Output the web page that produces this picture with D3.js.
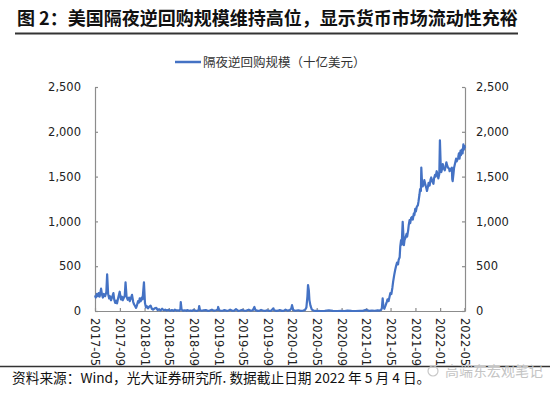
<!DOCTYPE html>
<html>
<head>
<meta charset="utf-8">
<script src="https://cdn.jsdelivr.net/npm/d3@7"></script>
<style>
  body { margin: 0; background: #fff; }
  svg { display: block; }
</style>
</head>
<body>
<script>
// Step 1: data (十亿美元)
var dates = [
  "2017-05-01","2017-05-05","2017-05-10","2017-05-15","2017-05-19","2017-05-24","2017-05-31",
  "2017-06-05","2017-06-09","2017-06-14","2017-06-20","2017-06-26","2017-06-30",
  "2017-07-05","2017-07-10","2017-07-14","2017-07-19","2017-07-24","2017-07-31",
  "2017-08-04","2017-08-09","2017-08-14","2017-08-18","2017-08-23","2017-08-31",
  "2017-09-06","2017-09-11","2017-09-15","2017-09-20","2017-09-25","2017-09-29",
  "2017-10-04","2017-10-10","2017-10-16","2017-10-20","2017-10-25","2017-10-31",
  "2017-11-06","2017-11-10","2017-11-15","2017-11-20","2017-11-24","2017-11-30",
  "2017-12-05","2017-12-08","2017-12-13","2017-12-18","2017-12-22","2017-12-29",
  "2018-01-03","2018-01-08","2018-01-12","2018-01-18","2018-01-23","2018-01-31",
  "2018-02-06","2018-02-12","2018-02-20","2018-02-28",
  "2018-03-07","2018-03-14","2018-03-21","2018-03-29",
  "2018-04-06","2018-04-13","2018-04-20","2018-04-30",
  "2018-05-08","2018-05-16","2018-05-24","2018-05-31",
  "2018-06-08","2018-06-15","2018-06-22","2018-06-27","2018-06-29",
  "2018-07-03","2018-07-11","2018-07-19","2018-07-27","2018-07-31",
  "2018-08-09","2018-08-17","2018-08-24","2018-08-31",
  "2018-09-10","2018-09-18","2018-09-25","2018-09-28",
  "2018-10-02","2018-10-10","2018-10-19","2018-10-31",
  "2018-11-09","2018-11-19","2018-11-30",
  "2018-12-10","2018-12-20","2018-12-28","2018-12-31",
  "2019-01-04","2019-01-14","2019-01-24","2019-01-31",
  "2019-02-11","2019-02-21","2019-02-28",
  "2019-03-11","2019-03-20","2019-03-29",
  "2019-04-09","2019-04-18","2019-04-30",
  "2019-05-10","2019-05-20","2019-05-31",
  "2019-06-10","2019-06-20","2019-06-28",
  "2019-07-03","2019-07-15","2019-07-25","2019-07-31",
  "2019-08-12","2019-08-22","2019-08-30",
  "2019-09-10","2019-09-20","2019-09-30",
  "2019-10-03","2019-10-15","2019-10-25","2019-10-31",
  "2019-11-12","2019-11-22","2019-11-29",
  "2019-12-10","2019-12-20","2019-12-27","2019-12-31",
  "2020-01-06","2020-01-16","2020-01-31",
  "2020-02-12","2020-02-24",
  "2020-03-04","2020-03-11","2020-03-16","2020-03-19","2020-03-23","2020-03-26","2020-03-31",
  "2020-04-07","2020-04-15","2020-04-24",
  "2020-05-05","2020-05-20","2020-06-10","2020-06-30",
  "2020-07-20","2020-08-10","2020-08-31","2020-09-15","2020-09-30",
  "2020-10-20","2020-11-10","2020-11-30","2020-12-15","2020-12-31",
  "2021-01-15","2021-01-29","2021-02-12","2021-02-26",
  "2021-03-08","2021-03-15","2021-03-19","2021-03-23","2021-03-26","2021-03-31",
  "2021-04-06","2021-04-12","2021-04-16","2021-04-21","2021-04-26","2021-04-30",
  "2021-05-05","2021-05-10","2021-05-14","2021-05-19","2021-05-24","2021-05-28",
  "2021-06-02","2021-06-07","2021-06-10","2021-06-15","2021-06-18","2021-06-22","2021-06-25","2021-06-30",
  "2021-07-06","2021-07-09","2021-07-14","2021-07-19","2021-07-22","2021-07-27","2021-07-30",
  "2021-08-03","2021-08-06","2021-08-11","2021-08-16","2021-08-19","2021-08-24","2021-08-27","2021-08-31",
  "2021-09-03","2021-09-08","2021-09-13","2021-09-16","2021-09-21","2021-09-24","2021-09-28","2021-09-30",
  "2021-10-04","2021-10-07","2021-10-12","2021-10-15","2021-10-20","2021-10-25","2021-10-28",
  "2021-11-02","2021-11-05","2021-11-10","2021-11-15","2021-11-18","2021-11-23","2021-11-29",
  "2021-12-02","2021-12-07","2021-12-10","2021-12-15","2021-12-20","2021-12-23","2021-12-28","2021-12-31",
  "2022-01-04","2022-01-07","2022-01-12","2022-01-14","2022-01-19","2022-01-24","2022-01-28",
  "2022-02-01","2022-02-04","2022-02-09","2022-02-14","2022-02-17","2022-02-22","2022-02-28",
  "2022-03-02","2022-03-04","2022-03-08","2022-03-11","2022-03-16","2022-03-21","2022-03-24","2022-03-31",
  "2022-04-04","2022-04-07","2022-04-12","2022-04-14","2022-04-19","2022-04-22","2022-04-26","2022-04-28",
  "2022-05-02","2022-05-04"
];

var rrpValues = [
  175,150,190,165,200,160,250,
  180,150,190,165,210,410,
  190,140,165,120,150,200,
  130,90,115,85,140,215,
  130,160,120,145,170,320,
  160,125,150,110,140,180,
  100,75,55,35,60,110,
  95,140,110,150,130,320,
  90,40,55,30,45,60,
  25,15,30,35,
  10,20,5,25,
  8,15,5,12,
  3,10,2,15,
  5,8,3,20,100,
  15,3,8,2,10,
  3,6,2,12,
  4,2,8,55,
  10,3,6,10,
  2,5,15,
  4,8,12,45,
  8,3,5,10,
  2,6,15,
  3,5,20,
  2,6,12,
  3,5,15,
  3,8,45,
  10,2,5,12,
  3,2,8,
  2,5,30,
  8,2,4,10,
  2,3,15,
  4,10,25,65,
  10,3,8,
  2,5,
  10,40,160,290,230,120,60,
  15,5,2,
  1,0,1,6,
  1,0,2,0,5,
  1,0,3,1,12,
  2,4,3,6,
  5,12,30,140,60,25,
  60,100,130,110,160,200,
  190,260,330,400,460,500,
  540,520,570,600,720,790,740,995,
  735,790,820,860,830,900,960,
  1015,980,1040,1050,1020,1090,1070,1140,
  1110,1165,1180,1220,1300,1360,1340,1600,
  1420,1390,1420,1460,1410,1370,1340,
  1390,1430,1400,1470,1490,1450,1420,
  1480,1520,1500,1560,1520,1480,1530,1905,
  1620,1550,1600,1640,1590,1570,1610,
  1660,1630,1600,1590,1560,1580,1600,
  1470,1450,1530,1600,1650,1700,1670,1710,
  1760,1700,1790,1740,1800,1760,1860,1800,
  1840,1820
];

var yTicks = [0, 500, 1000, 1500, 2000, 2500];
var xTickLabels = ["2017-05","2017-09","2018-01","2018-05","2018-09","2019-01","2019-05","2019-09",
  "2020-01","2020-05","2020-09","2021-01","2021-05","2021-09","2022-01","2022-05"];

var titleText = "图 2：美国隔夜逆回购规模维持高位，显示货币市场流动性充裕";
var legendText = "隔夜逆回购规模（十亿美元）";
var sourceText = "资料来源：Wind，光大证券研究所. 数据截止日期 2022 年 5 月 4 日。";

// Step 2: build chart
var parseDate = d3.timeParse("%Y-%m-%d");
var parseMonth = d3.timeParse("%Y-%m");
var dataset = dates.map(function(d, i) {
  return { date: parseDate(d), value: rrpValues[i] };
});

var cjk = "'Noto Sans CJK SC', 'Noto Sans', sans-serif";
var tickFont = "'DejaVu Sans', Verdana, sans-serif";
var axisColor = "#8c8c8c";
var lineColor = "#4472c4";

var svg = d3.select("body")
  .append("svg")
  .attr("width", 550)
  .attr("height", 395);

var plotLeft = 95, plotRight = 465, plotTop = 87, plotBottom = 311;

var xScale = d3.scaleTime()
  .domain([parseDate("2017-05-01"), parseDate("2022-05-04")])
  .range([plotLeft, plotRight]);

var yScale = d3.scaleLinear()
  .domain([0, 2500])
  .range([plotBottom, plotTop]);

// title + underline
svg.append("text")
  .text(titleText)
  .attr("x", 17)
  .attr("y", 25)
  .attr("font-family", cjk)
  .attr("font-size", 18)
  .attr("font-weight", "bold")
  .attr("fill", "#111");

svg.append("line")
  .attr("x1", 15).attr("x2", 518)
  .attr("y1", 33.5).attr("y2", 33.5)
  .attr("stroke", "#333")
  .attr("stroke-width", 2);

// legend
svg.append("line")
  .attr("x1", 175).attr("x2", 201)
  .attr("y1", 62).attr("y2", 62)
  .attr("stroke", lineColor)
  .attr("stroke-width", 2.5);

svg.append("text")
  .text(legendText)
  .attr("x", 203)
  .attr("y", 66.5)
  .attr("font-family", cjk)
  .attr("font-size", 12.5)
  .attr("fill", "#333");

// axes
var yAxisLeft = d3.axisLeft(yScale).tickValues(yTicks).tickFormat(d3.format(",")).tickSizeInner(-3).tickSizeOuter(0).tickPadding(14);
var yAxisRight = d3.axisRight(yScale).tickValues(yTicks).tickFormat(d3.format(",")).tickSizeInner(-3).tickSizeOuter(0).tickPadding(14);
var xAxis = d3.axisBottom(xScale)
  .tickValues(xTickLabels.map(function(d) { return parseMonth(d); }))
  .tickFormat(d3.timeFormat("%Y-%m"))
  .tickSizeInner(-3)
  .tickSizeOuter(0);

var gx = svg.append("g").attr("transform", "translate(0," + plotBottom + ")").call(xAxis);
var gl = svg.append("g").attr("transform", "translate(" + plotLeft + ",0)").call(yAxisLeft);
var gr = svg.append("g").attr("transform", "translate(" + plotRight + ",0)").call(yAxisRight);

[gx, gl, gr].forEach(function(g) {
  g.select(".domain").attr("stroke", axisColor).attr("stroke-width", 1.2);
  g.selectAll(".tick line").attr("stroke", axisColor).attr("stroke-width", 1.2);
  g.selectAll("text")
    .attr("font-family", tickFont)
    .attr("font-size", 11.5)
    .attr("fill", "#222");
});
gr.selectAll(".tick text").attr("x", 11);

gx.selectAll(".tick text")
  .attr("transform", "rotate(90)")
  .attr("x", 7)
  .attr("y", 0)
  .attr("dy", "0.38em")
  .attr("text-anchor", "start");

// line
var line = d3.line()
  .x(function(d) { return xScale(d.date); })
  .y(function(d) { return yScale(d.value); });

svg.append("path")
  .datum(dataset)
  .attr("d", line)
  .attr("fill", "none")
  .attr("stroke", lineColor)
  .attr("stroke-width", 2.2)
  .attr("stroke-linejoin", "round");

// footer
svg.append("line")
  .attr("x1", 0).attr("x2", 550)
  .attr("y1", 366.5).attr("y2", 366.5)
  .attr("stroke", "#333")
  .attr("stroke-width", 1.5);

svg.append("text")
  .text(sourceText)
  .attr("x", 12)
  .attr("y", 383)
  .attr("font-family", cjk)
  .attr("font-size", 13.7)
  .attr("fill", "#111");

// watermark
svg.append("circle")
  .attr("cx", 433).attr("cy", 371).attr("r", 5)
  .attr("fill", "none").attr("stroke", "#c8c8c8").attr("stroke-width", 1.2);
svg.append("text")
  .text("高端东宏观笔记")
  .attr("x", 445)
  .attr("y", 376)
  .attr("font-family", cjk)
  .attr("font-size", 14)
  .attr("fill", "#c4c4c4");
</script>
</body>
</html>
